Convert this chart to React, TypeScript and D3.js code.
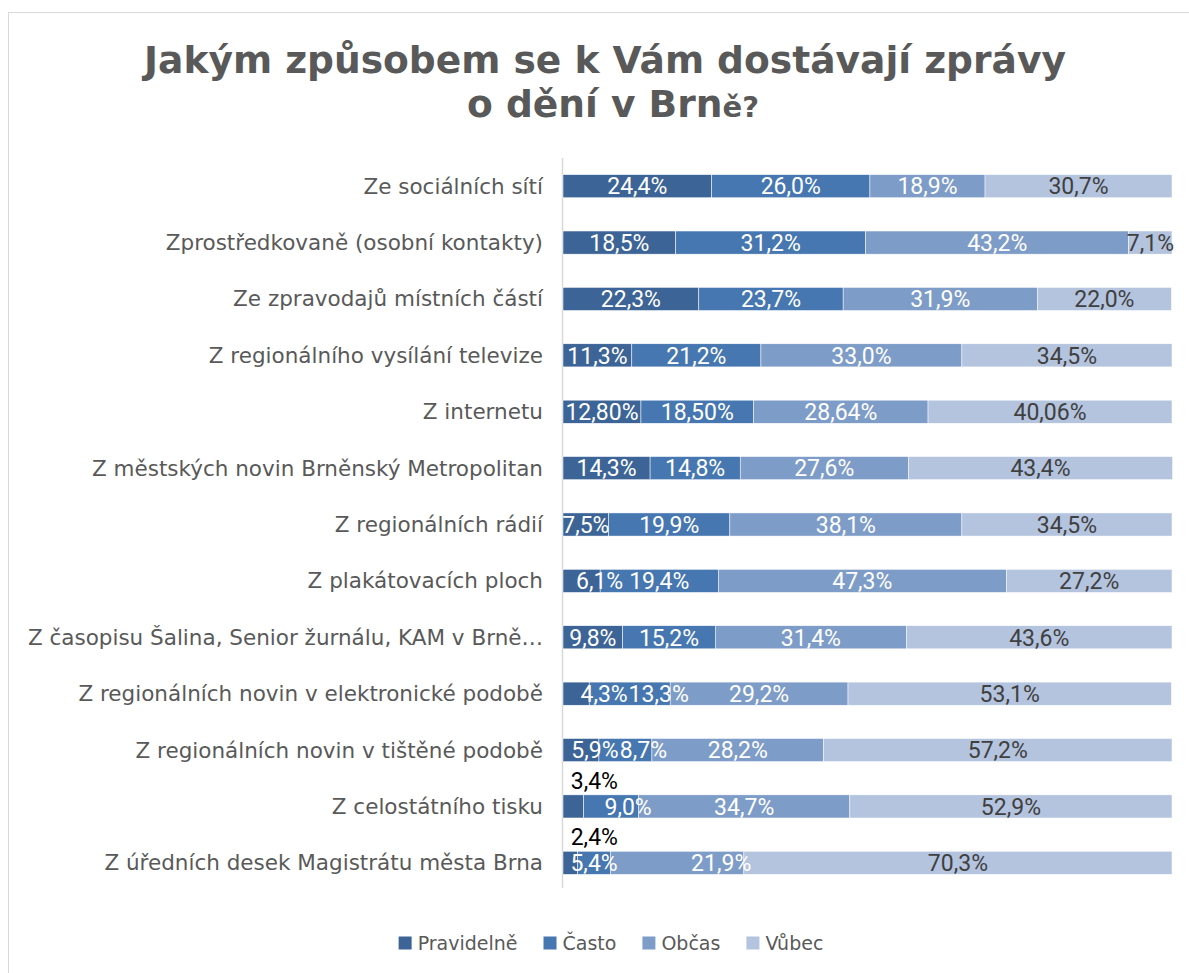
import React, { useEffect, useRef } from "react";
import * as d3 from "d3";

const titleLine1 = "Jakým způsobem se k Vám dostávají zprávy";
const titleLine2Main = "o dění v Brn";
const titleLine2Tail = "ě?";

const categories = [
  "Ze sociálních sítí",
  "Zprostředkovaně (osobní kontakty)",
  "Ze zpravodajů místních částí",
  "Z regionálního vysílání televize",
  "Z internetu",
  "Z městských novin Brněnský Metropolitan",
  "Z regionálních rádií",
  "Z plakátovacích ploch",
  "Z časopisu Šalina, Senior žurnálu, KAM v Brně…",
  "Z regionálních novin v elektronické podobě",
  "Z regionálních novin v tištěné podobě",
  "Z celostátního tisku",
  "Z úředních desek Magistrátu města Brna",
];

const seriesNames = ["Pravidelně", "Často", "Občas", "Vůbec"];

const pravidelne = [24.4, 18.5, 22.3, 11.3, 12.8, 14.3, 7.5, 6.1, 9.8, 4.3, 5.9, 3.4, 2.4];
const casto = [26.0, 31.2, 23.7, 21.2, 18.5, 14.8, 19.9, 19.4, 15.2, 13.3, 8.7, 9.0, 5.4];
const obcas = [18.9, 43.2, 31.9, 33.0, 28.64, 27.6, 38.1, 47.3, 31.4, 29.2, 28.2, 34.7, 21.9];
const vubec = [30.7, 7.1, 22.0, 34.5, 40.06, 43.4, 34.5, 27.2, 43.6, 53.1, 57.2, 52.9, 70.3];
const decimals = [1, 1, 1, 1, 2, 1, 1, 1, 1, 1, 1, 1, 1];

const seriesValues = [pravidelne, casto, obcas, vubec];

// style config
const colors = ["#3c6496", "#4677b1", "#7e9cc8", "#b4c4de"];
const labelColors = ["#ffffff", "#ffffff", "#ffffff", "#404040"];
// manual label nudges (px) as in the original, key "row-series"
const labelNudge: Record<string, [number, number]> = {
  "7-0": [18, 0],
  "9-0": [28, 0],
  "9-1": [29, 0],
  "10-0": [14, 0],
  "10-1": [18, 0],
  "11-0": [21, -26],
  "11-1": [17, 0],
  "12-0": [24, -26],
  "12-2": [44, 0],
};

const W = 1189;
const H = 973;

export default function App() {
  const ref = useRef<SVGSVGElement>(null);

  useEffect(() => {
    const svg = d3.select(ref.current);
    svg.selectAll("*").remove();

    svg
      .append("rect")
      .attr("x", 8.5)
      .attr("y", 12.5)
      .attr("width", 1300)
      .attr("height", 1100)
      .attr("fill", "#fff")
      .attr("stroke", "#d9d9d9")
      .attr("stroke-width", 1);

    const titleG = svg
      .append("g")
      .attr("font-family", "DejaVu Sans")
      .attr("font-weight", "bold")
      .attr("fill", "#595959")
      .attr("text-anchor", "middle");
    titleG.append("text").attr("x", 605).attr("y", 73).attr("font-size", 37.6).text(titleLine1);
    const t2 = titleG.append("text").attr("x", 613).attr("y", 117).attr("font-size", 37.6);
    t2.append("tspan").text(titleLine2Main);
    t2.append("tspan").attr("font-size", 29).text(titleLine2Tail);

    const x = d3.scaleLinear().domain([0, 100]).range([563, 1172]);
    const y = d3
      .scaleBand<string>()
      .domain(categories)
      .range([158, 891])
      .paddingInner(0.59)
      .paddingOuter(0.295);

    // axis line
    svg
      .append("line")
      .attr("x1", 562.5)
      .attr("x2", 562.5)
      .attr("y1", 158)
      .attr("y2", 888)
      .attr("stroke", "#d9d9d9")
      .attr("stroke-width", 1.5);

    // category labels
    svg
      .append("g")
      .selectAll("text")
      .data(categories)
      .join("text")
      .attr("x", 543)
      .attr("y", (d) => (y(d) as number) + y.bandwidth() / 2)
      .attr("dy", "0.35em")
      .attr("text-anchor", "end")
      .attr("font-family", "DejaVu Sans")
      .attr("font-size", 21.5)
      .attr("fill", "#595959")
      .text((d) => d);

    const fmt = (v: number, dec: number) => v.toFixed(dec).replace(".", ",") + "%";

    categories.forEach((cat, r) => {
      let acc = 0;
      const yc = (y(cat) as number) + y.bandwidth() / 2;
      seriesValues.forEach((vals, s) => {
        const v = vals[r];
        const x0 = x(acc);
        const x1 = x(acc + v);
        acc += v;
        svg
          .append("rect")
          .attr("x", x0)
          .attr("y", y(cat) as number)
          .attr("width", x1 - x0)
          .attr("height", y.bandwidth())
          .attr("fill", colors[s])
          .attr("stroke", "#ffffff")
          .attr("stroke-width", 0.5);
      });
      acc = 0;
      seriesValues.forEach((vals, s) => {
        const v = vals[r];
        const x0 = x(acc);
        const x1 = x(acc + v);
        acc += v;
        const nudge = labelNudge[`${r}-${s}`] || [0, 0];
        const outside = nudge[1] !== 0;
        svg
          .append("text")
          .attr("x", (x0 + x1) / 2 + nudge[0])
          .attr("y", yc + nudge[1])
          .attr("dy", "0.36em")
          .attr("text-anchor", "middle")
          .attr("font-family", "Roboto")
          .attr("font-size", 23)
          .attr("fill", outside ? "#000000" : labelColors[s])
          .text(fmt(v, decimals[r]));
      });
    });

    // legend
    const legend = svg.append("g").attr("font-family", "DejaVu Sans").attr("font-size", 19).attr("fill", "#595959");
    const sq = 13;
    const gapText = 6;
    const gapItem = 26;
    const widths: number[] = [];
    const items = seriesNames.map((name, i) => {
      const g = legend.append("g");
      g.append("rect").attr("width", sq).attr("height", sq).attr("y", -sq / 2).attr("fill", colors[i]);
      const t = g
        .append("text")
        .attr("x", sq + gapText)
        .attr("dy", "0.35em")
        .text(name);
      const w = (t.node() as SVGTextElement).getComputedTextLength();
      widths.push(sq + gapText + w);
      return g;
    });
    const total = d3.sum(widths) + gapItem * (widths.length - 1);
    let lx = 611 - total / 2;
    items.forEach((g, i) => {
      g.attr("transform", `translate(${lx},943)`);
      lx += widths[i] + gapItem;
    });
  }, []);

  return (
    <svg
      ref={ref}
      width={W}
      height={H}
      style={{ position: "absolute", left: 0, top: 0, background: "#fff" }}
    />
  );
}
